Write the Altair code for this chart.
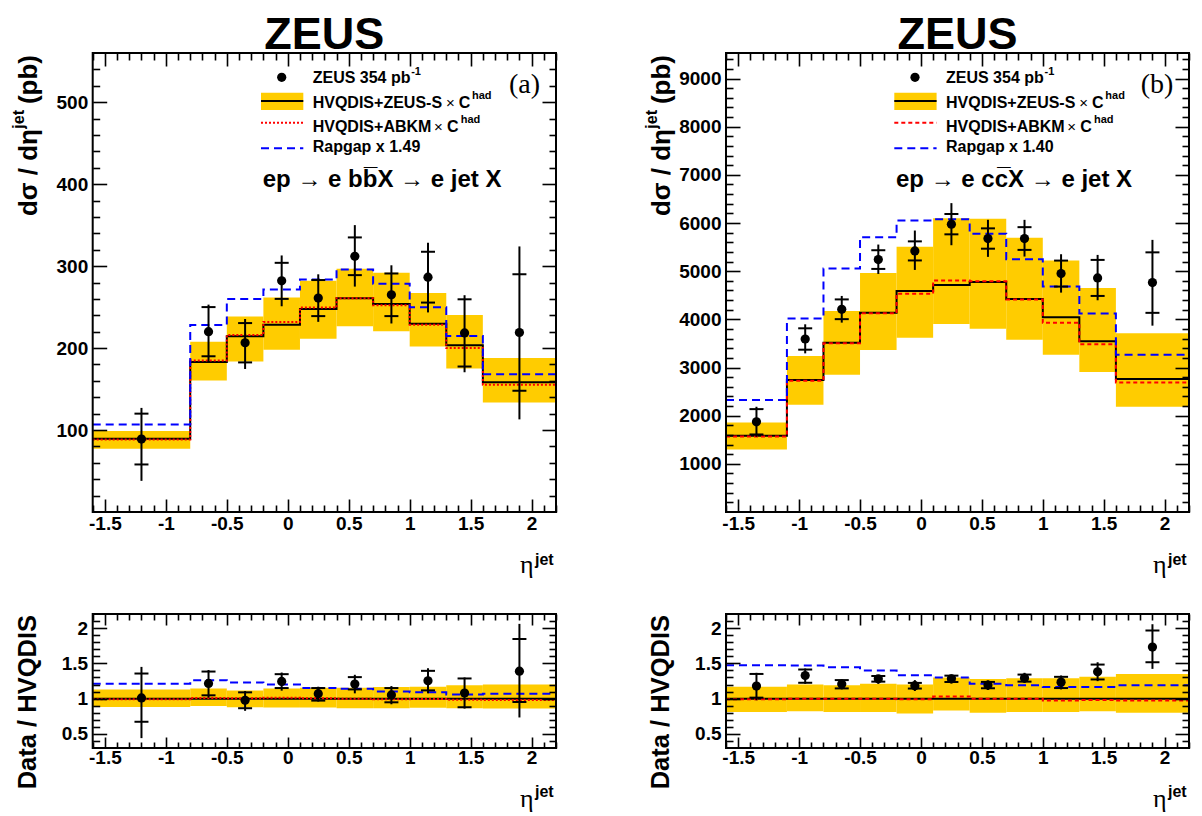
import altair as alt
import pandas as pd

# ---------------------------------------------------------------- data ----
# panel (a): ep -> e b bbar X -> e jet X
B_EDGES = [-1.6, -0.8, -0.5, -0.2, 0.1, 0.4, 0.7, 1.0, 1.3, 1.6, 2.2]
B_ETA = [-1.2, -0.65, -0.35, -0.05, 0.25, 0.55, 0.85, 1.15, 1.45, 1.9]
B_XS = [89, 220, 206.5, 282, 261, 312, 265, 286.5, 218.5, 219]
B_STAT = [31, 30, 24, 22, 22, 23, 26, 31, 41, 71]
B_TOT_UP = [38, 33, 29, 31, 29, 38, 36, 42, 46, 105]
B_TOT_DN = [51, 37, 32, 31, 29, 37, 35, 43, 48, 106]
B_HVQ = [89.4, 182.9, 214.3, 228.6, 247.8, 260.8, 253.9, 229.8, 203.3, 158.4]
B_HVQ_HI = [98.8, 207.8, 238.4, 261.6, 282.0, 296.7, 291.8, 267.3, 240.4, 187.8]
B_HVQ_LO = [77.1, 160.4, 183.7, 198.0, 211.4, 226.5, 220.4, 202.0, 175.1, 133.5]
B_ABKM = [88.6, 184.9, 215.9, 231.8, 249.4, 260.8, 252.2, 228.6, 200.0, 155.1]
B_RAPGAP = [106.9, 228.2, 260.0, 271.4, 283.7, 295.9, 278.4, 249.8, 214.7, 168.2]

RB_VAL = [1.01, 1.216, 0.977, 1.244, 1.07, 1.206, 1.052, 1.253, 1.08, 1.389]
RB_STAT_UP = [0.346, 0.168, 0.112, 0.103, 0.08, 0.099, 0.098, 0.141, 0.206, 0.455]
RB_STAT_DN = [0.338, 0.169, 0.113, 0.094, 0.098, 0.075, 0.104, 0.136, 0.202, 0.436]
RB_TOT_UP = [0.44, 0.19, 0.131, 0.126, 0.099, 0.132, 0.126, 0.178, 0.22, 0.671]
RB_TOT_DN = [0.57, 0.202, 0.15, 0.131, 0.112, 0.131, 0.132, 0.178, 0.221, 0.656]
RB_BAND_HI = [1.131, 1.145, 1.117, 1.145, 1.155, 1.155, 1.164, 1.169, 1.188, 1.2]
RB_BAND_LO = [0.883, 0.897, 0.878, 0.873, 0.873, 0.864, 0.864, 0.869, 0.864, 0.859]
RB_ABKM = [0.99, 1.01, 1.007, 1.014, 1.006, 1.0, 0.993, 0.995, 0.984, 0.979]
RB_RAPGAP = [1.21, 1.26, 1.23, 1.2, 1.15, 1.14, 1.1, 1.09, 1.06, 1.07]

# panel (b): ep -> e c cbar X -> e jet X
C_EDGES = [-1.6, -1.1, -0.8, -0.5, -0.2, 0.1, 0.4, 0.7, 1.0, 1.3, 1.6, 2.2]
C_ETA = [-1.35, -0.95, -0.65, -0.35, -0.05, 0.25, 0.55, 0.85, 1.15, 1.45, 1.9]
C_XS = [1873, 3592, 4209, 5241, 5421, 5976, 5678, 5678, 4950, 4860, 4763]
C_STAT = [263, 222, 205, 194, 198, 211, 211, 236, 270, 374, 628]
C_TOT_UP = [312, 305, 277, 312, 423, 437, 388, 388, 402, 478, 887]
C_TOT_DN = [312, 298, 277, 298, 395, 437, 381, 374, 395, 464, 894]
C_HVQ = [1582, 2739, 3516, 4139, 4590, 4714, 4777, 4423, 4042, 3543, 2760]
C_HVQ_HI = [1859, 3238, 4174, 4964, 5505, 6100, 6087, 5692, 5220, 4652, 3710]
C_HVQ_LO = [1298, 2227, 2850, 3363, 3620, 3904, 3807, 3578, 3266, 2906, 2185]
C_ABKM = [1568, 2725, 3502, 4125, 4534, 4805, 4791, 4410, 3931, 3481, 2691]
C_RAPGAP = [2324, 4015, 5054, 5705, 6052, 6080, 5775, 5248, 4680, 4119, 3266]

RC_VAL = [1.178, 1.328, 1.206, 1.281, 1.183, 1.281, 1.192, 1.291, 1.234, 1.38, 1.731]
RC_STAT_UP = [0.172, 0.085, 0.057, 0.04, 0.04, 0.045, 0.045, 0.05, 0.075, 0.103, 0.235]
RC_STAT_DN = [0.164, 0.103, 0.061, 0.04, 0.04, 0.045, 0.045, 0.05, 0.084, 0.108, 0.215]
RC_TOT_UP = [0.188, 0.099, 0.066, 0.047, 0.08, 0.061, 0.066, 0.075, 0.094, 0.136, 0.324]
RC_TOT_DN = [0.201, 0.118, 0.075, 0.071, 0.075, 0.065, 0.07, 0.066, 0.103, 0.132, 0.309]
RC_BAND_HI = [1.17, 1.2, 1.19, 1.21, 1.2, 1.3, 1.28, 1.29, 1.29, 1.31, 1.35]
RC_BAND_LO = [0.81, 0.82, 0.81, 0.81, 0.79, 0.83, 0.8, 0.81, 0.81, 0.82, 0.8]
RC_ABKM = [0.99, 1.0, 1.0, 1.0, 0.99, 1.03, 1.0, 1.0, 0.975, 0.98, 0.975]
RC_RAPGAP = [1.473, 1.47, 1.445, 1.4, 1.33, 1.3, 1.21, 1.19, 1.165, 1.165, 1.19]

REF_RATIO = 1.0

# axis ticks / domains
X_DOMAIN = [-1.6, 2.2]
X_MAJOR = [-1.5, -1.0, -0.5, 0.0, 0.5, 1.0, 1.5, 2.0]
X_MINOR = [round(-1.6 + 0.1 * i, 1) for i in range(39)]
X_MINOR = [v for v in X_MINOR if v not in X_MAJOR]

YA_DOMAIN = [0, 560]
YA_MAJOR = [100, 200, 300, 400, 500]
YA_MINOR = [20 * i for i in range(1, 28) if (20 * i) % 100 != 0]

YB_DOMAIN = [0, 9530]
YB_MAJOR = [1000 * i for i in range(1, 10)]
YB_MINOR = [200 * i for i in range(1, 48) if (200 * i) % 1000 != 0]

R_DOMAIN = [0.3, 2.2]
R_MAJOR = [0.5, 1.0, 1.5, 2.0]
R_MINOR = [round(0.1 * i, 1) for i in range(4, 22)]
R_MINOR = [v for v in R_MINOR if v not in R_MAJOR]

# ------------------------------------------------------------- layout ----
W, H = 1186, 808
SANS = "Liberation Sans"
SERIF = "Liberation Serif"
YELLOW = "#FFCC00"
BLUE = "#0000FF"
RED = "#FF0000"

GEO = {
    "a_top": dict(x0=84.7, x1=548.0, yb=504.0, yt=45.0),
    "b_top": dict(x0=718.0, x1=1181.0, yb=504.0, yt=45.0),
    "a_bot": dict(x0=84.7, x1=548.0, yb=740.0, yt=606.0),
    "b_bot": dict(x0=718.0, x1=1181.0, yb=740.0, yt=606.0),
}

ONE = pd.DataFrame({"k": [0]})
NUM = "'' + datum.value"


def lab_axis_x(g, pad):
    return alt.Axis(orient="bottom", offset=g["yb"] - H, values=X_MAJOR, ticks=False,
                    tickSize=0, domain=False, grid=False, title=None, labelFont=SANS,
                    labelFontSize=19, labelFontWeight="bold", labelColor="black",
                    labelPadding=pad, labelFlush=False, labelOverlap=False, labelExpr=NUM)


def lab_axis_y(g, vals):
    return alt.Axis(orient="left", offset=-g["x0"], values=vals, ticks=False, tickSize=0,
                    domain=False, grid=False, title=None, labelFont=SANS, labelFontSize=19,
                    labelFontWeight="bold", labelColor="black", labelPadding=5,
                    labelOverlap=False, labelExpr=NUM)


def tick_axis(orient, offset, vals, size):
    return alt.Axis(orient=orient, offset=offset, values=vals, labels=False, ticks=True,
                    tickSize=size, tickWidth=1.6, tickColor="black", domain=False,
                    grid=False, title=None, zindex=1)


def step_df(edges, vals):
    return pd.DataFrame({"eta": list(edges), "v": list(vals) + [vals[-1]]})


def panel(g, ydom, ylab, ymaj, ymin, edges, eta, val, st_up, st_dn, tot_up, tot_dn,
          band_lo, band_hi, central, abkm, rapgap, red_dash, red_w, xt, yt, xpad):
    XS = alt.Scale(domain=X_DOMAIN, range=[g["x0"], g["x1"]], nice=False, zero=False)
    YS = alt.Scale(domain=ydom, range=[g["yb"], g["yt"]], nice=False, zero=False)
    L = []
    band = pd.DataFrame({"e0": edges[:-1], "e1": edges[1:], "lo": band_lo, "hi": band_hi})
    L.append(alt.Chart(band).mark_rect(color=YELLOW).encode(
        x=alt.X("e0:Q", scale=XS, axis=lab_axis_x(g, xpad)), x2="e1:Q",
        y=alt.Y("lo:Q", scale=YS, axis=lab_axis_y(g, ylab)), y2="hi:Q"))
    ax2x = tick_axis("top", -g["yb"], X_MAJOR, xt[0])
    ax2y = tick_axis("right", g["x0"] - W, ymaj, yt[0])
    if central is None:
        ref = pd.DataFrame({"x": [X_DOMAIN[0]], "x2": [X_DOMAIN[1]], "y": [REF_RATIO]})
        L.append(alt.Chart(ref).mark_rule(color="black", strokeWidth=2).encode(
            x=alt.X("x:Q", scale=XS, axis=ax2x), x2="x2:Q",
            y=alt.Y("y:Q", scale=YS, axis=ax2y)))
    else:
        L.append(alt.Chart(step_df(edges, central)).mark_line(
            interpolate="step-after", color="black", strokeWidth=2).encode(
            x=alt.X("eta:Q", scale=XS, axis=ax2x), y=alt.Y("v:Q", scale=YS, axis=ax2y)))
    L.append(alt.Chart(step_df(edges, abkm)).mark_line(
        interpolate="step-after", color=RED, strokeWidth=red_w, strokeDash=red_dash).encode(
        x=alt.X("eta:Q", scale=XS, axis=tick_axis("top", -g["yb"], X_MINOR, xt[1])),
        y=alt.Y("v:Q", scale=YS, axis=tick_axis("right", g["x0"] - W, ymin, yt[1]))))
    L.append(alt.Chart(step_df(edges, rapgap)).mark_line(
        interpolate="step-after", color=BLUE, strokeWidth=2, strokeDash=[8, 5]).encode(
        x=alt.X("eta:Q", scale=XS, axis=tick_axis("bottom", g["yt"] - H, X_MAJOR, xt[0])),
        y=alt.Y("v:Q", scale=YS, axis=tick_axis("left", -g["x1"], ymaj, yt[0]))))
    pts = pd.DataFrame({"eta": eta, "v": val})
    pts["tlo"] = [v - d for v, d in zip(val, tot_dn)]
    pts["thi"] = [v + u for v, u in zip(val, tot_up)]
    L.append(alt.Chart(pts).mark_rule(color="black", strokeWidth=2).encode(
        x=alt.X("eta:Q", scale=XS, axis=tick_axis("bottom", g["yt"] - H, X_MINOR, xt[1])),
        y=alt.Y("tlo:Q", scale=YS, axis=tick_axis("left", -g["x1"], ymin, yt[1])),
        y2="thi:Q"))
    caps = pd.DataFrame({"eta": list(eta) + list(eta),
                         "c": [v - d for v, d in zip(val, st_dn)] + [v + u for v, u in zip(val, st_up)]})
    L.append(alt.Chart(caps).mark_tick(orient="horizontal", size=14, thickness=2,
                                       color="black", opacity=1).encode(
        x=alt.X("eta:Q", scale=XS, axis=None), y=alt.Y("c:Q", scale=YS, axis=None)))
    L.append(alt.Chart(pts).mark_circle(size=85, color="black", opacity=1).encode(
        x=alt.X("eta:Q", scale=XS, axis=None), y=alt.Y("v:Q", scale=YS, axis=None)))
    frame = pd.DataFrame({"x": [X_DOMAIN[0]], "x2": [X_DOMAIN[1]], "y": [ydom[0]], "y2": [ydom[1]]})
    L.append(alt.Chart(frame).mark_rect(fillOpacity=0, stroke="black", strokeWidth=2).encode(
        x=alt.X("x:Q", scale=XS, axis=None), x2="x2:Q",
        y=alt.Y("y:Q", scale=YS, axis=None), y2="y2:Q"))
    return L


def text(s, x, y, size, weight="bold", font=SANS, align="left", baseline="alphabetic", angle=0):
    return alt.Chart(ONE).mark_text(text=s, font=font, fontSize=size, fontWeight=weight,
                                    align=align, baseline=baseline, angle=angle,
                                    color="black").encode(x=alt.value(x), y=alt.value(y))


def swatch_rect(x, x2, y, y2, color):
    return alt.Chart(ONE).mark_rect(color=color).encode(
        x=alt.value(x), x2=alt.value(x2), y=alt.value(y), y2=alt.value(y2))


def swatch_line(x, x2, y, color, width, dash=None):
    if dash:
        m = alt.Chart(ONE).mark_rule(color=color, strokeWidth=width, strokeDash=dash)
    else:
        m = alt.Chart(ONE).mark_rule(color=color, strokeWidth=width)
    return m.encode(x=alt.value(x), x2=alt.value(x2), y=alt.value(y))


def decorations(g, gb, tag, rap, proc, red_dash, red_w):
    L0, T = g["x0"], g["yt"]
    out = [
        text("ZEUS", (g["x0"] + g["x1"]) / 2, T - 4.5, 45, align="center"),
        alt.Chart(ONE).mark_circle(size=85, color="black", opacity=1).encode(
            x=alt.value(L0 + 189), y=alt.value(T + 24.3)),
        text("ZEUS 354 pb", L0 + 220, T + 30.3, 16),
        text("-1", L0 + 318.5, T + 22, 11),
        swatch_rect(L0 + 168.3, L0 + 210.6, T + 39.7, T + 57, YELLOW),
        swatch_line(L0 + 168.3, L0 + 210.6, T + 48, "black", 2),
        text("HVQDIS+ZEUS-S", L0 + 220, T + 54.7, 16),
        text("\u00d7", L0 + 353.3, T + 54.7, 15, weight="normal"),
        text("C", L0 + 366, T + 54.7, 16),
        text("had", L0 + 379.3, T + 46, 11),
        swatch_line(L0 + 168.3, L0 + 210.6, T + 69.7, RED, red_w, red_dash),
        text("HVQDIS+ABKM", L0 + 220, T + 78.7, 16),
        text("\u00d7", L0 + 341.3, T + 78.7, 15, weight="normal"),
        text("C", L0 + 354.3, T + 78.7, 16),
        text("had", L0 + 368, T + 70, 11),
        swatch_line(L0 + 168.3, L0 + 210.6, T + 95.3, BLUE, 2, [8, 5]),
        text(rap, L0 + 220, T + 99.3, 16),
        text(proc, L0 + 170, T + 133.7, 24),
        text(tag, L0 + 447.3, T + 32, 28, weight="normal", font=SERIF, align="right",
             baseline="middle"),
        # y title (upper)
        text("(pb)", L0 - 55.7, T + 2, 26, align="right", angle=270),
        text("jet", L0 - 69, T + 57, 16, align="right", angle=270),
        text("d\u03c3 / d\u03b7", L0 - 55.7, T + 76, 26, align="right", angle=270),
        # x title (upper)
        text("\u03b7", g["x1"] - 36, 565, 26, weight="normal", font=SERIF),
        text("jet", g["x1"] - 21, 557, 16),
        # lower panel titles
        text("Data / HVQDIS", gb["x0"] - 57, gb["yt"] + 1, 25.5, align="right", angle=270),
        text("\u03b7", gb["x1"] - 36, 799, 26, weight="normal", font=SERIF),
        text("jet", gb["x1"] - 21, 789, 16),
    ]
    return out


layers = []
layers += panel(GEO["a_top"], YA_DOMAIN, YA_MAJOR, YA_MAJOR, YA_MINOR, B_EDGES, B_ETA, B_XS,
                B_STAT, B_STAT, B_TOT_UP, B_TOT_DN, B_HVQ_LO, B_HVQ_HI, B_HVQ, B_ABKM,
                B_RAPGAP, [2, 2], 2, (13, 7), (14, 7), 2.5)
layers += panel(GEO["b_top"], YB_DOMAIN, YB_MAJOR, YB_MAJOR, YB_MINOR, C_EDGES, C_ETA, C_XS,
                C_STAT, C_STAT, C_TOT_UP, C_TOT_DN, C_HVQ_LO, C_HVQ_HI, C_HVQ, C_ABKM,
                C_RAPGAP, [4, 3], 2, (13, 7), (14, 7), 2.5)
layers += panel(GEO["a_bot"], R_DOMAIN, R_MAJOR, R_MAJOR, R_MINOR, B_EDGES, B_ETA, RB_VAL,
                RB_STAT_UP, RB_STAT_DN, RB_TOT_UP, RB_TOT_DN, RB_BAND_LO, RB_BAND_HI, None,
                RB_ABKM, RB_RAPGAP, [2, 2], 2, (11, 6), (14, 7), 0)
layers += panel(GEO["b_bot"], R_DOMAIN, R_MAJOR, R_MAJOR, R_MINOR, C_EDGES, C_ETA, RC_VAL,
                RC_STAT_UP, RC_STAT_DN, RC_TOT_UP, RC_TOT_DN, RC_BAND_LO, RC_BAND_HI, None,
                RC_ABKM, RC_RAPGAP, [4, 3], 2, (11, 6), (14, 7), 0)
layers += decorations(GEO["a_top"], GEO["a_bot"], "(a)", "Rapgap x 1.49",
                      "ep \u2192 e bb\u0305X \u2192 e jet X", [2, 2], 2)
layers += decorations(GEO["b_top"], GEO["b_bot"], "(b)", "Rapgap x 1.40",
                      "ep \u2192 e cc\u0305X \u2192 e jet X", [4, 3], 2)

chart = alt.layer(*layers).resolve_scale(x="independent", y="independent").properties(
    width=W, height=H, padding=0, autosize=alt.AutoSizeParams(type="none")
).configure_view(strokeOpacity=0)

chart.save("out.html", embed_options={"renderer": "svg", "actions": False})
